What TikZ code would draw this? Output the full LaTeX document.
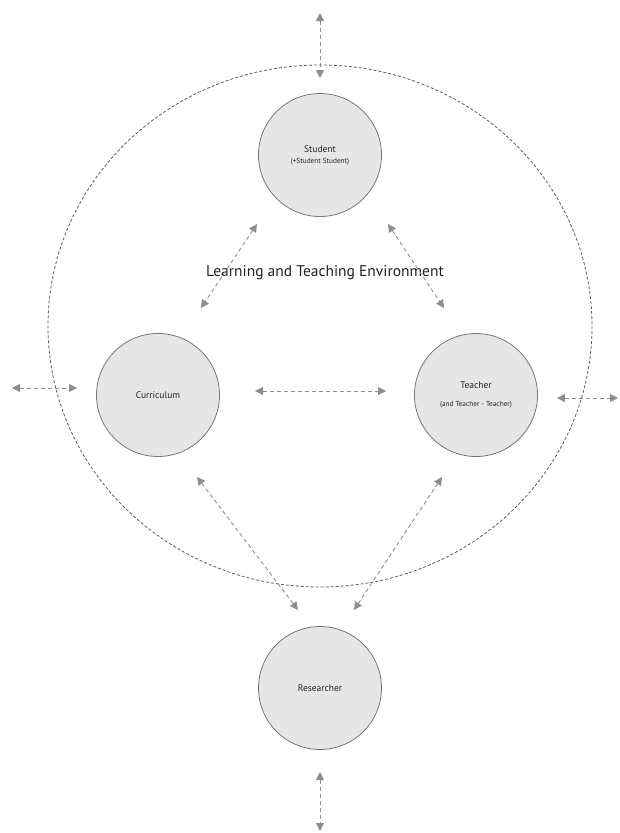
\documentclass[tikz,border=0pt]{standalone}
\usepackage{fontspec}
\setmainfont{PT Sans}
\usetikzlibrary{arrows.meta,positioning,calc}
\definecolor{linegray}{HTML}{8E8E8E}
\definecolor{envgray}{HTML}{5A5A5A}
\definecolor{circgray}{HTML}{777777}
\definecolor{circfill}{HTML}{E6E6E6}
\definecolor{textgray}{HTML}{222222}
\newcommand{\smallnote}[1]{{\fontsize{7.3}{8.5}\selectfont #1}}

\begin{document}
\begin{tikzpicture}[x=1pt,y=-1pt,
  topic/.style={circle,draw=circgray,fill=circfill,line width=0.8pt,minimum size=123pt,inner sep=0pt,align=center,text=textgray,font=\fontsize{9.5}{11}\selectfont},
  link/.style={draw=linegray,line width=0.9pt,dash pattern=on 4pt off 3pt,{Triangle[length=8pt,width=8pt,fill=linegray]}-{Triangle[length=8pt,width=8pt,fill=linegray]}},
  env/.style={draw=envgray,line width=0.8pt,dash pattern=on 3pt off 2pt}]
\useasboundingbox (0,0) rectangle (619,833);
% environment boundary
\draw[env] (320,326) ellipse [x radius=272, y radius=261];
% the four actors
\node[topic] (student) at (320,155) {Student\\\smallnote{(+Student Student)}};
\node[topic] (curriculum) at (158,395) {Curriculum};
\node[topic] (teacher) at (476,395) {Teacher\\[7pt]\smallnote{(and Teacher - Teacher)}};
\node[topic] (researcher) at (320,688) {Researcher};
\node[text=textgray,font=\fontsize{15.5}{18}\selectfont] (envlabel) at (325,273) {Learning and Teaching Environment};
% arrow ends
\coordinate (topout) at (320,13);   \coordinate (topin) at (320,78);
\coordinate (leftout) at (12,388);  \coordinate (leftin) at (77,388);
\coordinate (rightin) at (557,398); \coordinate (rightout) at (618,398);
\coordinate (botin) at (320,772);   \coordinate (botout) at (320,831);
\coordinate (sc1) at (257,224); \coordinate (sc2) at (201,308);
\coordinate (st1) at (388,224); \coordinate (st2) at (444,308);
\coordinate (ct1) at (255,391); \coordinate (ct2) at (386,391);
\coordinate (cr1) at (197,477); \coordinate (cr2) at (298,610);
\coordinate (tr1) at (442,477); \coordinate (tr2) at (354,610);
% connectors
\draw[link] (topout) -- (topin);
\draw[link] (leftout) -- (leftin);
\draw[link] (rightin) -- (rightout);
\draw[link] (botin) -- (botout);
\draw[link] (sc1) -- (sc2);
\draw[link] (st1) -- (st2);
\draw[link] (ct1) -- (ct2);
\draw[link] (cr1) -- (cr2);
\draw[link] (tr1) -- (tr2);
\end{tikzpicture}
\end{document}
